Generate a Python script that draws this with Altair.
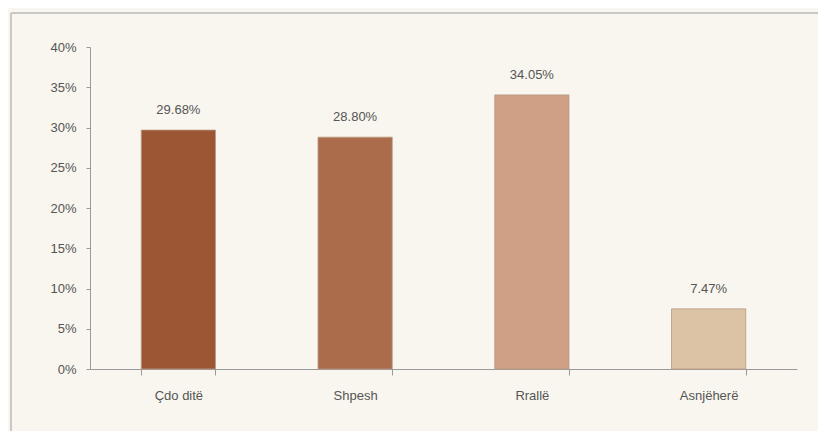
import altair as alt
import pandas as pd

categories = ["Çdo ditë", "Shpesh", "Rrallë", "Asnjëherë"]
values = [0.2968, 0.2880, 0.3405, 0.0747]
labels = ["29.68%", "28.80%", "34.05%", "7.47%"]
colors = ["#9c5634", "#ab6c4c", "#cf9f86", "#dcc3a6"]

df = pd.DataFrame({"cat": categories, "val": values, "lab": labels, "col": colors})

x = alt.X("cat:N", sort=categories, title=None,
          scale=alt.Scale(paddingInner=0.58, paddingOuter=0.29),
          axis=alt.Axis(labelAngle=0, tickBand="extent", labelFont="Liberation Sans",
                        labelFontSize=13, labelColor="#555555", labelPadding=14,
                        domainColor="#9a9a9a", tickColor="#9a9a9a", tickSize=6))
y = alt.Y("val:Q", title=None,
          scale=alt.Scale(domain=[0, 0.4]),
          axis=alt.Axis(format=".0%", values=[0, .05, .1, .15, .2, .25, .3, .35, .4],
                        grid=False, labelFont="Liberation Sans", labelFontSize=13,
                        labelColor="#555555", labelPadding=10,
                        domainColor="#9a9a9a", tickColor="#9a9a9a", tickSize=4))

bars = alt.Chart(df).mark_bar(stroke="#b89a84", strokeWidth=0.8).encode(
    x=x, y=y, color=alt.Color("col:N", scale=None))

text = alt.Chart(df).mark_text(dy=-13, baseline="bottom", font="Liberation Sans",
                               fontSize=13, color="#555555").encode(
    x=alt.X("cat:N", sort=categories), y="val:Q", text="lab:N")

top_line = alt.Chart(df).mark_rule(color="#c8c8c4", strokeWidth=2).encode(
    x=alt.value(-79), x2=alt.value(740), y=alt.value(-34))
left_line = alt.Chart(df).mark_rule(color="#c8c8c4", strokeWidth=2).encode(
    x=alt.value(-79), y=alt.value(-34), y2=alt.value(400))

chart = alt.layer(top_line, left_line, bars, text).properties(
    width=707, height=322,
    autosize=alt.AutoSizeParams(type="none"),
    padding={"left": 82, "top": 39, "right": 21, "bottom": 62},
    background="#f8f6ee",
).configure_view(stroke=None)

chart.save("out.html", embed_options={"renderer": "svg", "actions": False})
